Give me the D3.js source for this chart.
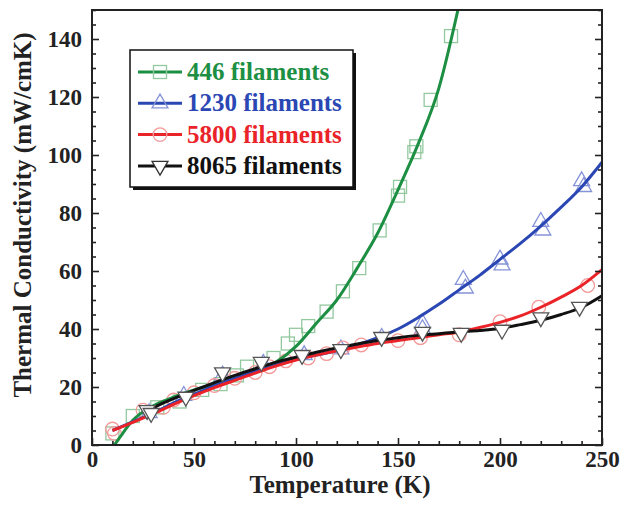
<!DOCTYPE html>
<html>
<head>
<meta charset="utf-8">
<script src="https://cdn.jsdelivr.net/npm/d3@7"></script>
<style>
  body { margin: 0; background: #fff; }
  svg text { font-family: "Liberation Serif", "Times New Roman", serif; font-weight: bold; }
</style>
</head>
<body>
<div id="vis"></div>
<script>
const FRAME_WIDTH = 622;
const FRAME_HEIGHT = 514;
const MARGINS = {left: 92, right: 20, top: 10, bottom: 69};

const VIS_WIDTH = FRAME_WIDTH - MARGINS.left - MARGINS.right;
const VIS_HEIGHT = FRAME_HEIGHT - MARGINS.top - MARGINS.bottom;

// measured points (temperature K, conductivity mW/cmK)
const T_446 = [10, 20, 32, 43, 54, 63, 71, 76, 89, 96, 100, 106, 115, 123, 131, 141, 150, 151, 158, 159, 166, 176];
const K_446 = [4, 10, 13, 15, 19, 21, 24, 27, 30, 35, 38, 41, 46, 53, 61, 74, 86, 89, 101, 103, 119, 141];

const T_1230 = [28, 45, 64, 84, 104, 122, 142, 162, 162, 182, 183, 200, 201, 220, 221, 240, 241];
const K_1230 = [11, 17, 24, 28, 31, 33, 37, 42, 40, 57, 54, 64, 62, 77, 74, 91, 89];

const T_5800 = [10, 11, 25, 35, 40, 50, 60, 70, 80, 87, 95, 106, 115, 123, 132, 150, 161, 180, 200, 219, 243];
const K_5800 = [5.5, 4, 12, 13, 15.5, 18, 20.5, 23, 25, 27, 29, 30, 31.5, 33.5, 34.5, 36, 37, 38, 42.5, 47.5, 55];

const T_8065 = [27, 29, 46, 64, 83, 103, 122, 142, 162, 181, 201, 220, 239];
const K_8065 = [12, 11, 16.6, 25, 28.6, 31, 33, 37.2, 39, 38.6, 39.7, 44, 47.6];

// fitted curves
const FIT_T_446 = [11, 14, 20, 30, 40, 50, 60, 70, 80, 90, 100, 110, 120, 130, 140, 150, 160, 170, 180];
const FIT_K_446 = [0, 3, 8.5, 13.5, 16.5, 19, 21, 23, 25.5, 28.5, 34, 42, 50, 61, 73, 88, 104, 123, 152];

const FIT_T_1230 = [10, 20, 30, 40, 50, 60, 70, 80, 90, 100, 110, 120, 130, 140, 150, 160, 170, 180, 190, 200, 210, 220, 230, 240, 250];
const FIT_K_1230 = [5, 8, 11, 14.5, 17.5, 20.5, 23, 25.5, 27.5, 29.5, 31, 32.5, 34.5, 37, 40, 44, 48.5, 53.5, 58.5, 64, 69.5, 75.5, 82, 89, 97.5];

const FIT_T_5800 = [10, 20, 30, 40, 50, 60, 70, 80, 90, 100, 110, 120, 130, 140, 150, 160, 170, 180, 190, 200, 210, 220, 230, 240, 250];
const FIT_K_5800 = [5, 7.8, 10.8, 14, 17, 19.8, 22.3, 24.8, 27.2, 29.3, 31, 32.5, 33.8, 35, 36, 37, 38, 39, 40.5, 42.3, 44.5, 47.5, 51, 55, 60.5];

const FIT_T_8065 = [27, 30, 40, 50, 60, 70, 80, 90, 100, 110, 120, 130, 140, 150, 160, 170, 180, 190, 200, 210, 220, 230, 240, 250];
const FIT_K_8065 = [11.5, 12.8, 16, 18.8, 21.5, 24, 26.3, 28.5, 30.3, 32, 33.5, 34.8, 36, 37, 37.8, 38.4, 39, 39.5, 40.2, 41.5, 43, 45, 47.5, 51.5];

const X_TICKS = [0, 50, 100, 150, 200, 250];
const Y_TICKS = [0, 20, 40, 60, 80, 100, 120, 140];

const SERIES = [
  {name: "446 filaments", t: T_446, k: K_446, ft: FIT_T_446, fk: FIT_K_446,
   line: "#1d8f43", mark: "#93c99f", symbol: "square"},
  {name: "1230 filaments", t: T_1230, k: K_1230, ft: FIT_T_1230, fk: FIT_K_1230,
   line: "#2b47b3", mark: "#8593d8", symbol: "up"},
  {name: "5800 filaments", t: T_5800, k: K_5800, ft: FIT_T_5800, fk: FIT_K_5800,
   line: "#ea2328", mark: "#f39a9a", symbol: "circle"},
  {name: "8065 filaments", t: T_8065, k: K_8065, ft: FIT_T_8065, fk: FIT_K_8065,
   line: "#111111", mark: "#555555", symbol: "down"}
];

const X_SCALE = d3.scaleLinear().domain([0, 250]).range([0, VIS_WIDTH]);
const Y_SCALE = d3.scaleLinear().domain([0, 150]).range([VIS_HEIGHT, 0]);

const SVG = d3.select("#vis")
  .append("svg")
    .attr("width", FRAME_WIDTH)
    .attr("height", FRAME_HEIGHT);

SVG.append("defs").append("clipPath").attr("id", "clip")
  .append("rect").attr("width", VIS_WIDTH).attr("height", VIS_HEIGHT);

const PLOT = SVG.append("g")
  .attr("transform", "translate(" + MARGINS.left + "," + MARGINS.top + ")");

// draw a marker at (0,0) of selection g
function drawMarker(g, sym, color, fill) {
  if (sym === "square") {
    g.append("rect").attr("x", -6.5).attr("y", -6.5).attr("width", 13).attr("height", 13)
      .attr("fill", "none").attr("stroke", color).attr("stroke-width", 1.3);
  } else if (sym === "circle") {
    g.append("circle").attr("r", 6.8)
      .attr("fill", "none").attr("stroke", color).attr("stroke-width", 1.3);
  } else {
    const rot = sym === "down" ? 180 : 0;
    g.append("path").attr("d", d3.symbol(d3.symbolTriangle, 110)())
      .attr("transform", "rotate(" + rot + ")")
      .attr("fill", fill).attr("stroke", color).attr("stroke-width", 1.3);
  }
}

const DATA_G = PLOT.append("g").attr("clip-path", "url(#clip)");

// hollow markers under the lines
SERIES.filter(s => s.symbol !== "down").forEach(s => {
  s.t.forEach((t, i) => {
    const g = DATA_G.append("g")
      .attr("transform", "translate(" + X_SCALE(t) + "," + Y_SCALE(s.k[i]) + ")");
    drawMarker(g, s.symbol, s.mark, "none");
  });
});

// fitted lines
const LINE = d3.line()
  .x(d => X_SCALE(d[0]))
  .y(d => Y_SCALE(d[1]))
  .curve(d3.curveMonotoneX);

SERIES.forEach(s => {
  DATA_G.append("path")
    .datum(s.ft.map((t, i) => [t, s.fk[i]]))
    .attr("d", LINE)
    .attr("fill", "none")
    .attr("stroke", s.line)
    .attr("stroke-width", 3);
});

// white-filled triangles for 8065 on top
SERIES[3].t.forEach((t, i) => {
  const g = DATA_G.append("g")
    .attr("transform", "translate(" + X_SCALE(t) + "," + Y_SCALE(SERIES[3].k[i]) + ")");
  drawMarker(g, "down", SERIES[3].mark, "#fff");
});

// axes with inward ticks
const X_MINOR = d3.range(0, 251, 10).filter(v => v % 50 !== 0);
const Y_MINOR = d3.range(0, 151, 5).filter(v => v % 20 !== 0);

function styleAxis(g) {
  g.select(".domain").remove();
  g.selectAll(".tick line").attr("stroke", "#222").attr("stroke-width", 1.6);
  g.selectAll(".tick text").attr("font-size", "23px").attr("fill", "#222");
}

PLOT.append("g").attr("transform", "translate(0," + VIS_HEIGHT + ")")
  .call(d3.axisBottom(X_SCALE).tickValues(X_TICKS).tickSize(-7).tickPadding(6).tickFormat(d3.format("d")))
  .call(styleAxis);
PLOT.append("g").attr("transform", "translate(0," + VIS_HEIGHT + ")")
  .call(d3.axisBottom(X_SCALE).tickValues(X_MINOR).tickSize(-4).tickFormat(""))
  .call(styleAxis);

PLOT.append("g")
  .call(d3.axisLeft(Y_SCALE).tickValues(Y_TICKS).tickSize(-7).tickPadding(10).tickFormat(d3.format("d")))
  .call(styleAxis);
PLOT.append("g")
  .call(d3.axisLeft(Y_SCALE).tickValues(Y_MINOR).tickSize(-4).tickFormat(""))
  .call(styleAxis);

PLOT.append("g").attr("transform", "translate(" + VIS_WIDTH + ",0)")
  .call(d3.axisRight(Y_SCALE).tickValues(Y_TICKS).tickSize(-7).tickFormat(""))
  .call(styleAxis);
PLOT.append("g").attr("transform", "translate(" + VIS_WIDTH + ",0)")
  .call(d3.axisRight(Y_SCALE).tickValues(Y_MINOR).tickSize(-4).tickFormat(""))
  .call(styleAxis);

// frame
PLOT.append("rect")
  .attr("width", VIS_WIDTH).attr("height", VIS_HEIGHT)
  .attr("fill", "none").attr("stroke", "#222").attr("stroke-width", 2);

// axis titles
SVG.append("text")
  .attr("x", 340).attr("y", 493)
  .attr("text-anchor", "middle")
  .attr("font-size", "25px").attr("fill", "#222")
  .text("Temperature (K)");

SVG.append("text")
  .attr("transform", "translate(31,215) rotate(-90)")
  .attr("text-anchor", "middle")
  .attr("font-size", "25px").attr("fill", "#222")
  .text("Thermal Conductivity (mW/cmK)");

// legend
const LEG = SVG.append("g").attr("transform", "translate(130,50)");
LEG.append("rect").attr("x", 3).attr("y", 3).attr("width", 223).attr("height", 137).attr("fill", "#111");
LEG.append("rect").attr("width", 223).attr("height", 137)
  .attr("fill", "#fff").attr("stroke", "#111").attr("stroke-width", 1.5);

SERIES.forEach((s, i) => {
  const cy = 22 + i * 31.3;
  LEG.append("line").attr("x1", 8).attr("x2", 52).attr("y1", cy).attr("y2", cy)
    .attr("stroke", s.line).attr("stroke-width", 3);
  const g = LEG.append("g").attr("transform", "translate(30," + cy + ")");
  drawMarker(g, s.symbol, s.symbol === "down" ? "#333" : s.mark, s.symbol === "down" ? "#fff" : "none");
  LEG.append("text").attr("x", 57).attr("y", cy + 8)
    .attr("font-size", "25px").attr("fill", s.line)
    .text(s.name);
});
</script>
</body>
</html>
